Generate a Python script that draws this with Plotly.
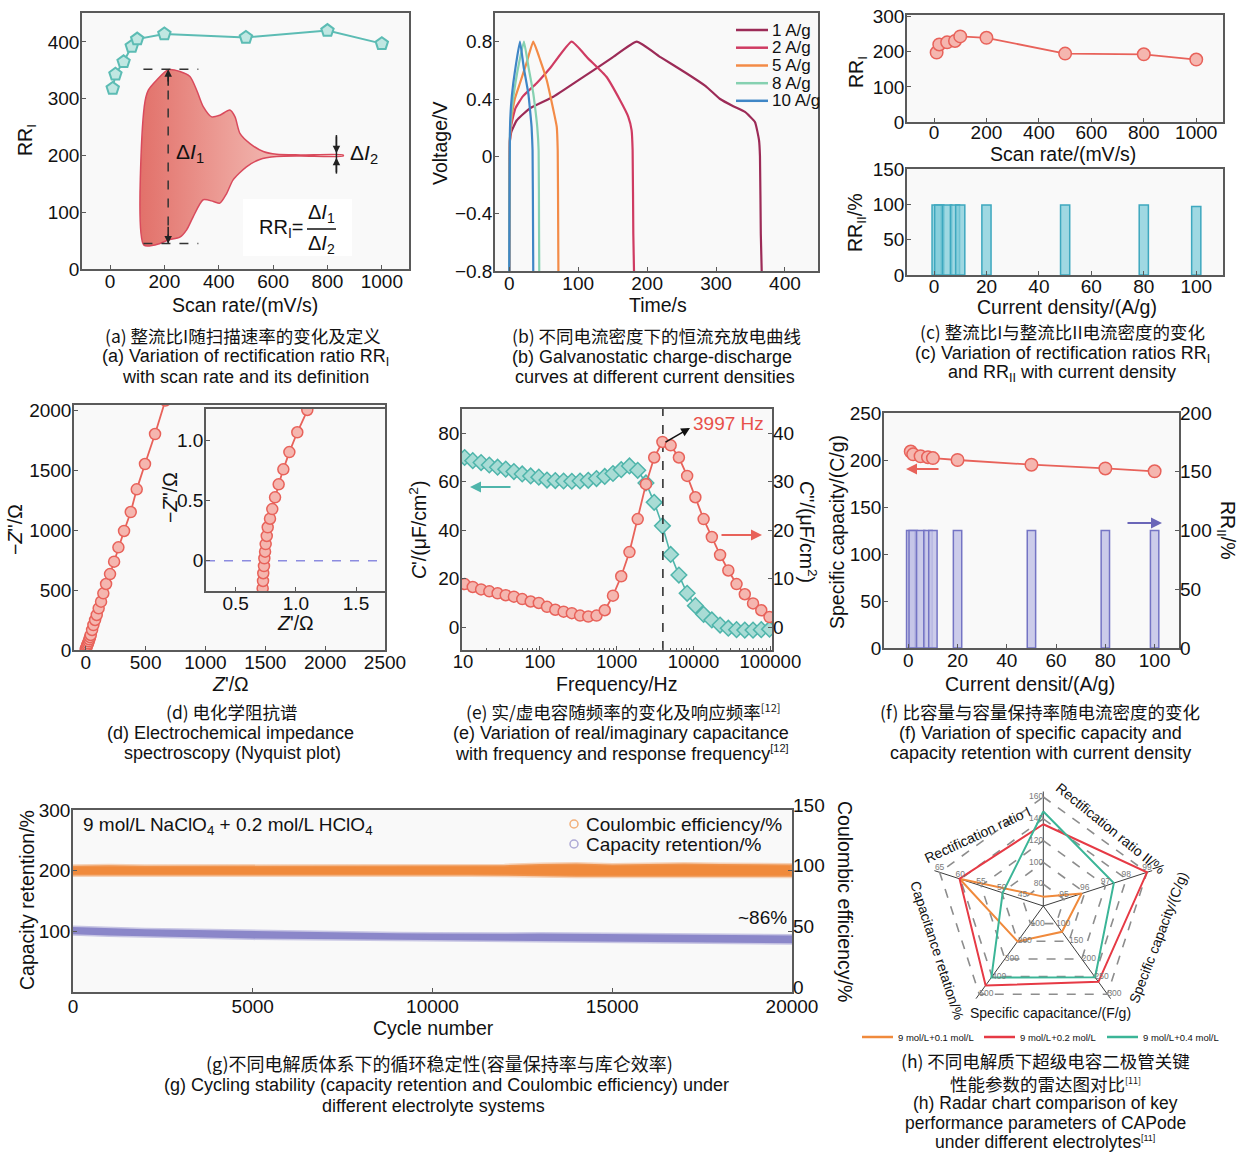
import plotly.graph_objects as go

W, H = 1241, 1154
SANS = "Liberation Sans, Arial, Helvetica, sans-serif"
CJK = "Noto Sans CJK SC, Noto Sans, sans-serif"

# ---------------- (a) rectification ratio I vs scan rate
a_scan = [10, 20, 50, 80, 100, 200, 500, 800, 1000]
a_rr = [318, 343, 365, 392, 405, 414, 408, 420, 397]
# schematic current envelope (illustration)
a_env_top_x = [125, 126, 141, 172, 214, 257, 294, 319, 343, 374, 404, 441, 460, 478, 515, 564, 613, 700, 858]
a_env_top_y = [42, 286, 315, 333, 351, 348, 339, 315, 286, 268, 271, 280, 268, 239, 221, 207, 202, 201, 201]
a_env_bot_x = [125, 184, 214, 257, 282, 306, 343, 380, 404, 429, 453, 502, 551, 613, 700, 858]
a_env_bot_y = [42, 45, 51, 56, 69, 92, 122, 119, 116, 133, 157, 180, 193, 198, 199, 199]

# ---------------- (b) GCD curves
b_labels = ["1 A/g", "2 A/g", "5 A/g", "8 A/g", "10 A/g"]
b_colors = ["#9c2b57", "#cf3b62", "#f38b47", "#86d1b1", "#3f86c6"]
b_t_1 = [0, 0.3, 1, 3, 10.7, 30, 64, 100, 122, 150, 185, 220, 257, 285, 306, 325, 342, 356.5, 362.4, 363.8, 365, 366.3]
b_v_1 = [-0.8, -0.3, 0.11, 0.17, 0.25, 0.335, 0.416, 0.53, 0.6, 0.69, 0.8, 0.69, 0.58, 0.49, 0.40, 0.35, 0.31, 0.24, 0.113, 0.0, -0.54, -0.8]
b_t_2 = [0, 0.3, 1, 3, 8.9, 20, 39.7, 60, 90.5, 115, 141, 160.6, 172.7, 177.5, 179, 180, 181]
b_v_2 = [-0.8, -0.3, 0.12, 0.22, 0.335, 0.42, 0.51, 0.62, 0.8, 0.68, 0.555, 0.393, 0.276, 0.183, 0.043, -0.54, -0.8]
b_t_5 = [0, 0.3, 1, 3, 8, 15.5, 25, 34.8, 45, 54.3, 64, 68.9, 70.3, 71, 71.3]
b_v_5 = [-0.8, -0.3, 0.12, 0.25, 0.4, 0.51, 0.65, 0.8, 0.67, 0.532, 0.323, 0.206, 0.043, -0.5, -0.8]
b_t_8 = [0, 0.3, 1, 3, 8.9, 15, 21.3, 28, 34.8, 38, 40.6, 42.6, 43.2, 43.5]
b_v_8 = [-0.8, -0.3, 0.15, 0.3, 0.51, 0.67, 0.8, 0.62, 0.44, 0.32, 0.206, 0.043, -0.5, -0.8]
b_t_10 = [0, 0.3, 1, 2.5, 5.8, 10, 15.5, 21, 27.6, 30, 32.4, 33.8, 34.5, 34.8]
b_v_10 = [-0.8, -0.3, 0.18, 0.35, 0.51, 0.65, 0.8, 0.62, 0.44, 0.33, 0.206, 0.043, -0.5, -0.8]

# ---------------- (c)
c_scan = [10, 20, 50, 80, 100, 200, 500, 800, 1000]
c_rr1 = [198, 221, 227, 231, 244, 240, 195, 193, 178]
c_cd = [1, 2, 5, 8, 10, 20, 50, 80, 100]
c_rr2 = [99, 99, 99, 99, 99, 99, 99, 99, 97]

# ---------------- (d) Nyquist
d_zre = [0, 3, 8, 13, 19, 25, 30, 36, 42, 53, 64, 78, 92, 108, 128, 147, 170, 203, 237, 273, 320, 376, 426, 495, 579, 665]
d_zim = [6, 15, 28, 42, 56, 72, 89, 107, 125, 167, 208, 250, 292, 347, 403, 472, 550, 633, 736, 856, 992, 1150, 1339, 1550, 1800, 2080]
di_zre = [0.724, 0.727, 0.729, 0.735, 0.738, 0.744, 0.749, 0.758, 0.766, 0.785, 0.804, 0.827, 0.857, 0.896, 0.946, 1.012, 1.095, 1.13]
di_zim = [-0.229, -0.168, -0.104, -0.044, 0.02, 0.075, 0.138, 0.205, 0.277, 0.348, 0.428, 0.525, 0.633, 0.757, 0.90, 1.064, 1.249, 1.32]

# ---------------- (e) C' and C'' vs frequency
e_freq = [10.5, 13.4, 17.2, 22, 28.2, 36, 46, 59, 76, 97, 124, 159, 204, 261, 334, 427, 547, 700, 896, 1147,
          1468, 1880, 2406, 3080, 3942, 5046, 6459, 8267, 10582, 13545, 17338, 22193, 28407, 36361, 46542,
          59574, 76255, 97606]
e_c1 = [70, 68.7, 67.9, 66.9, 66, 65.2, 64.2, 63.2, 62.4, 61.9, 60.7, 60.5, 60.3, 60.2, 60.3, 60.6, 61.3, 62.2, 63.4, 65,
        66.5, 64.7, 59.5, 51.5, 41.8, 30, 21.5, 14, 8.9, 5.3, 3.0, 0.9, -0.4, -1.0, -1.2, -1.2, -1.0, -0.8]
e_c2 = [8.9, 8.3, 7.8, 7.4, 7.0, 6.6, 6.3, 5.8, 5.3, 5.0, 4.2, 3.6, 3.2, 2.9, 2.4, 2.2, 2.4, 3.5, 6.5, 10.5,
        15.5, 22.3, 29.5, 35, 38.2, 37.5, 35, 31.2, 26.8, 22.3, 18.6, 14.9, 11.7, 8.9, 6.8, 4.9, 3.5, 2.1]
e_fres = 3997

# ---------------- (f)
f_cd = [1, 2, 5, 8, 10, 20, 50, 80, 100]
f_cap = [209, 206, 204, 203, 202, 200, 195, 191, 188]
f_rr2 = [100, 100, 100, 100, 100, 100, 100, 100, 100]

# ---------------- (g) cycling (band envelopes)
g_cycle = [0, 1000, 2000, 3000, 4000, 5000, 6000, 7000, 8000, 9000, 10000, 11000, 12000, 13000, 14000,
           15000, 16000, 17000, 18000, 19000, 20000]
g_ce_hi = [104, 104.5, 104, 104, 104.5, 104, 104, 104.5, 104, 104, 104.5, 104, 104.5, 105.5, 106, 105, 105.5, 106, 105.5, 105.5, 105]
g_ce_lo = [96, 96, 96.5, 96, 96, 96, 96.5, 96, 96, 96, 96, 96, 96, 95.5, 95, 94.5, 94.5, 95, 94.5, 95, 95]
g_cr_hi = [107, 105, 103.5, 102.5, 101.5, 100, 99.5, 99, 98, 97, 96.5, 96, 96, 96.5, 96, 95, 94.5, 94.5, 94, 93.5, 93]
g_cr_lo = [95, 93, 92, 90.5, 89.5, 88, 87.5, 86.5, 86, 85, 84.5, 84, 83.5, 84, 83.5, 82.5, 82, 82, 81.5, 81, 80.5]
g_xticks = [0, 5000, 10000, 15000, 20000]

# ---------------- (h) radar
h_axes = ["Rectification ratio I", "Rectification ratio II/%", "Specific capacity/(C/g)",
          "Specific capacitance/(F/g)", "Capacitance retation/%"]
h_lo = [60, 94, 50, 0, 40]
h_hi = [160, 99, 300, 500, 65]
h_ticks = [["80", "100", "120", "140", "160"], ["95", "96", "97", "98", "99"],
           ["100", "150", "200", "250", "300"], ["100", "200", "300", "400", "500"],
           ["45", "50", "55", "60", "65"]]
h_series = ["9 mol/L+0.1 mol/L", "9 mol/L+0.2 mol/L", "9 mol/L+0.4 mol/L"]
h_vals = [[68.6, 95.85, 123, 201, 60.2], [135, 99, 265, 450, 60.2], [146.7, 97.4, 252, 405, 49.8]]
h_colors = ["#f08a3c", "#e63a45", "#3bb597"]

# =====================================================================
PINK = dict(symbol="circle", size=11, color="#f5b6af", line=dict(color="#e8625a", width=1.5))
PINK_L = dict(symbol="circle", size=12.5, color="#f5b6af", line=dict(color="#e8625a", width=1.5))
RED = "#e8625a"


def dom(l, r):
    return [l / W, r / W]


def domy(t, b):
    return [1 - b / H, 1 - t / H]


def px(x):
    return x / W


def py(y):
    return 1 - y / H


TICKFONT = dict(size=19, family=SANS, color="#111")


def axis(domain, rng, tickvals, ticktext=None, anchor=None, **kw):
    d = dict(domain=domain, range=rng, tickvals=tickvals, anchor=anchor, showline=True, mirror=True,
             linecolor="#5a5a5a", linewidth=1.5, ticks="inside", ticklen=4, tickwidth=1.2,
             tickcolor="#5a5a5a", showgrid=False, zeroline=False, tickfont=TICKFONT, fixedrange=True,
             automargin=False)
    if ticktext is not None:
        d["ticktext"] = ticktext
    d.update(kw)
    return d


def xax(*a, **kw):
    kw.setdefault("ticklabelstandoff", -6)
    return axis(*a, **kw)


def yax(*a, **kw):
    kw.setdefault("ticklabelstandoff", -3)
    return axis(*a, **kw)


fig = go.Figure()

# (a)
fig.add_trace(go.Scatter(
    x=a_env_top_x + a_env_bot_x[::-1], y=a_env_top_y + a_env_bot_y[::-1], xaxis="x", yaxis="y",
    mode="lines", fill="toself", line=dict(color="#d94a5c", width=1.5, shape="spline", smoothing=0.7),
    fillgradient=dict(type="horizontal", colorscale=[[0, "#e2716a"], [0.45, "#eda19a"], [1, "#f7d6d2"]]),
    hoverinfo="skip"))
fig.add_trace(go.Scatter(x=a_scan, y=a_rr, xaxis="x", yaxis="y", mode="lines+markers",
                         line=dict(color="#5cbcb4", width=2),
                         marker=dict(symbol="pentagon", size=13, color="#c0e7e2",
                                     line=dict(color="#5cbcb4", width=2))))

# (b)
for t, v, c in [(b_t_1, b_v_1, b_colors[0]), (b_t_2, b_v_2, b_colors[1]), (b_t_5, b_v_5, b_colors[2]),
                (b_t_8, b_v_8, b_colors[3]), (b_t_10, b_v_10, b_colors[4])]:
    fig.add_trace(go.Scatter(x=t, y=v, xaxis="x2", yaxis="y2", mode="lines",
                             line=dict(color=c, width=2.2, shape="spline", smoothing=0.4)))

# (c)
fig.add_trace(go.Scatter(x=c_scan, y=c_rr1, xaxis="x3", yaxis="y3", mode="lines+markers",
                         line=dict(color=RED, width=1.8), marker=PINK_L))
fig.add_trace(go.Bar(x=c_cd, y=c_rr2, xaxis="x4", yaxis="y4", width=3.5,
                     marker=dict(color="rgba(128,204,218,0.75)", line=dict(color="#3ea8bf", width=1.5))))

# (d)
fig.add_trace(go.Scatter(x=d_zre, y=d_zim, xaxis="x5", yaxis="y5", mode="lines+markers",
                         line=dict(color=RED, width=1.8), marker=PINK))
fig.add_trace(go.Scatter(x=[0.253, 1.741], y=[0, 0], xaxis="x6", yaxis="y6", mode="lines",
                         line=dict(color="#8c8ce0", width=1.5, dash="dash")))
fig.add_trace(go.Scatter(x=di_zre, y=di_zim, xaxis="x6", yaxis="y6", mode="lines+markers",
                         line=dict(color=RED, width=1.8), marker=PINK))

# (e)
fig.add_trace(go.Scatter(x=e_freq, y=e_c1, xaxis="x7", yaxis="y7", mode="lines+markers",
                         line=dict(color="#4fb5ab", width=1.6),
                         marker=dict(symbol="diamond", size=12, color="#a9dcd5",
                                     line=dict(color="#4fb5ab", width=1.5))))
fig.add_trace(go.Scatter(x=[e_fres, e_fres], y=[-9.4, 90], xaxis="x7", yaxis="y7", mode="lines",
                         line=dict(color="#333", width=1.6, dash="dash")))
fig.add_trace(go.Scatter(x=e_freq, y=e_c2, xaxis="x7", yaxis="y8", mode="lines+markers",
                         line=dict(color=RED, width=1.8), marker=PINK))

# (f)
fig.add_trace(go.Scatter(x=f_cd, y=f_cap, xaxis="x8", yaxis="y9", mode="lines+markers",
                         line=dict(color=RED, width=1.8), marker=PINK_L))
fig.add_trace(go.Bar(x=f_cd, y=f_rr2, xaxis="x8", yaxis="y10", width=3.4,
                     marker=dict(color="rgba(196,196,232,0.85)", line=dict(color="#7474c4", width=1.5))))

# (g)
fig.add_trace(go.Scatter(x=g_cycle + g_cycle[::-1], y=g_cr_hi + g_cr_lo[::-1], xaxis="x9", yaxis="y11",
                         mode="lines", fill="toself", fillcolor="#8b87c9",
                         line=dict(color="rgba(139,135,201,0.45)", width=3)))
fig.add_trace(go.Scatter(x=g_cycle + g_cycle[::-1], y=g_ce_hi + g_ce_lo[::-1], xaxis="x9", yaxis="y12",
                         mode="lines", fill="toself", fillcolor="#f08a3c",
                         line=dict(color="rgba(240,160,100,0.45)", width=3)))

# (h) radar
ring_theta = h_axes + [h_axes[0]]
for k in [0.2, 0.4, 0.6, 0.8, 1.0]:
    fig.add_trace(go.Scatterpolar(r=[k] * 6, theta=ring_theta, mode="lines", subplot="polar",
                                  line=dict(color="#8d8d8d", width=1.6, dash="dash")))
for vals, col in zip(h_vals, h_colors):
    rn = [(v - lo) / (hi - lo) for v, lo, hi in zip(vals, h_lo, h_hi)]
    fig.add_trace(go.Scatterpolar(r=rn + [rn[0]], theta=ring_theta, mode="lines", subplot="polar",
                                  line=dict(color=col, width=2)))
tpos = ["middle left", "top center", "middle right", "middle right", "top center"]
for i in range(5):
    fig.add_trace(go.Scatterpolar(r=[0.2, 0.4, 0.6, 0.8, 1.0], theta=[h_axes[i]] * 5, mode="text",
                                  subplot="polar", text=h_ticks[i], textposition=tpos[i],
                                  textfont=dict(size=8.5, color="#7a7a7a", family=SANS)))

# ---------------- layout axes
minor_log = [m * 10 ** k for k in range(1, 5) for m in range(2, 10)]
layout_axes = dict(
    xaxis=xax(dom(82, 409), [-103, 1100], [0, 200, 400, 600, 800, 1000], anchor="y"),
    yaxis=yax(domy(13, 269), [0, 451], [0, 100, 200, 300, 400], anchor="x"),
    xaxis2=xax(dom(495, 818), [-20.7, 448], [0, 100, 200, 300, 400], anchor="y2"),
    yaxis2=yax(domy(13, 271), [-0.8, 1.0], [-0.8, -0.4, 0, 0.4, 0.8],
               ["\u22120.8", "\u22120.4", "0", "0.4", "0.8"], anchor="x2"),
    xaxis3=xax(dom(907, 1223), [-103, 1102], [0, 200, 400, 600, 800, 1000], anchor="y3",
               ticklabelstandoff=-8),
    yaxis3=yax(domy(15, 122), [0, 305], [0, 100, 200, 300], anchor="x3"),
    xaxis4=xax(dom(907, 1223), [-10.3, 110.2], [0, 20, 40, 60, 80, 100], anchor="y4",
               ticklabelstandoff=-7),
    yaxis4=yax(domy(169, 275), [0, 150], [0, 50, 100, 150], anchor="x4"),
    xaxis5=xax(dom(74, 385), [-98, 2500], [0, 500, 1000, 1500, 2000, 2500], anchor="y5"),
    yaxis5=yax(domy(405, 650), [0, 2042], [0, 500, 1000, 1500, 2000], anchor="x5"),
    xaxis6=xax(dom(206, 385), [0.253, 1.741], [0.5, 1.0, 1.5], ["0.5", "1.0", "1.5"], anchor="y6"),
    yaxis6=yax(domy(409, 591), [-0.251, 1.257], [0, 0.5, 1.0], ["0", "0.5", "1.0"], anchor="x6"),
    xaxis7=xax(dom(462, 772), [0.987, 5.022], [10, 100, 1000, 10000, 100000],
               ["10", "100", "1000", "10000", "100000"], anchor="y7", type="log",
               tickfont=dict(size=18.5, family=SANS, color="#111"),
               minor=dict(tickvals=minor_log, ticks="inside", ticklen=2.5, tickcolor="#5a5a5a")),
    yaxis7=yax(domy(409, 650), [-9.4, 90], [0, 20, 40, 60, 80], anchor="x7"),
    yaxis8=axis(domy(409, 650), [-4.7, 45], [0, 10, 20, 30, 40], anchor="x7", overlaying="y7",
                side="right", showline=False, mirror=False),
    xaxis8=xax(dom(884, 1179), [-9.85, 109.9], [0, 20, 40, 60, 80, 100], anchor="y9"),
    yaxis9=yax(domy(413, 648), [0, 250], [0, 50, 100, 150, 200, 250], anchor="x8"),
    yaxis10=axis(domy(413, 648), [0, 200], [0, 50, 100, 150, 200], anchor="x8", overlaying="y9",
                 side="right", showline=False, mirror=False),
    xaxis9=xax(dom(73, 792), [0, 20000], g_xticks, [str(v) for v in g_xticks], anchor="y11",
               ticklabelstandoff=-4),
    yaxis11=yax(domy(810, 992), [0, 300], [100, 200, 300], anchor="x9"),
    yaxis12=axis(domy(810, 992), [0, 150], [0, 50, 100, 150], anchor="x9", overlaying="y11",
                 side="right", showline=False, mirror=False, ticklabelshift=-5),
)

# ---------------- annotations
anns = []


def txt(x, y, text, size=18, angle=0, color="#111", family=SANS, xanchor="center", yanchor="middle"):
    anns.append(dict(x=px(x), y=py(y), xref="paper", yref="paper", text=text, showarrow=False,
                     font=dict(size=size, color=color, family=family), textangle=angle,
                     xanchor=xanchor, yanchor=yanchor))


def arrow(xh, yh, xt, yt, color, width=2, size=1.0, head=2):
    anns.append(dict(x=px(xh), y=py(yh), xref="paper", yref="paper", ax=xt - xh, ay=yt - yh,
                     showarrow=True, arrowhead=head, arrowwidth=width, arrowsize=size,
                     arrowcolor=color, text=""))


T = 19.5
# axis titles
txt(245, 305, "Scan rate/(mV/s)", size=T)
txt(27, 140, "RR<sub>I</sub>", size=T, angle=-90)
txt(658, 305, "Time/s", size=T)
txt(440, 143, "Voltage/V", size=T, angle=-90)
txt(1063, 154, "Scan rate/(mV/s)", size=T)
txt(857, 72, "RR<sub>I</sub>", size=T, angle=-90)
txt(1067, 307, "Current density/(A/g)", size=T)
txt(856, 223, "RR<sub>II</sub>/%", size=T, angle=-90)
txt(230, 684, "<i>Z</i>'/\u03a9", size=T)
txt(15, 530, "\u2212<i>Z</i>''/\u03a9", size=T, angle=-90)
txt(295, 623, "<i>Z</i>'/\u03a9", size=T)
txt(170, 498, "\u2212<i>Z</i>''/\u03a9", size=T, angle=-90)
txt(616, 684, "Frequency/Hz", size=T)
txt(418, 530, "<i>C</i>'/(\u03bcF/cm<sup>2</sup>)", size=T, angle=-90)
txt(808, 532, "<i>C</i>''/(\u03bcF/cm<sup>2</sup>)", size=T, angle=90)
txt(1030, 684, "Current densit/(A/g)", size=T)
txt(837, 532, "Specific capacity/(C/g)", size=T, angle=-90)
txt(1227, 530, "RR<sub>II</sub>/%", size=T, angle=90)
txt(433, 1028, "Cycle number", size=19.5)
txt(27, 900, "Capacity retention/%", size=19.5, angle=-90)
txt(845, 902, "Coulombic efficiency/%", size=19.5, angle=90)

# (a) illustration labels
txt(190, 153, "\u0394<i>I</i><sub>1</sub>", size=21)
txt(364, 154, "\u0394<i>I</i><sub>2</sub>", size=21)
txt(305, 228, "RR<sub>I</sub>=", size=20, xanchor="right")
txt(321, 213, "\u0394<i>I</i><sub>1</sub>", size=20)
txt(321, 244, "\u0394<i>I</i><sub>2</sub>", size=20)
for (xh, yh, xt, yt) in [(214, 352, 214, 320), (214, 45, 214, 77), (833, 204, 833, 236), (833, 196, 833, 168)]:
    anns.append(dict(x=xh, y=yh, ax=xt, ay=yt, xref="x", yref="y", axref="x", ayref="y", showarrow=True,
                     arrowhead=2, arrowwidth=1.5, arrowsize=1.0, arrowcolor="#222", text=""))

# (b) legend
b_rows = [30, 47.7, 65.5, 83.2, 100.8]
for lab, col, yy in zip(b_labels, b_colors, b_rows):
    txt(770, yy, lab, size=17, xanchor="left")

# (e) labels
txt(728, 423, "3997 Hz", size=19, color="#e8504a")
arrow(690, 428, 664, 443, "#111", width=1.6, size=1.1)
arrow(470, 487, 512, 487, "#4fb5ab", width=2.2, size=1.0)
arrow(762, 535, 720, 535, "#e8625a", width=2.2, size=1.0)
# (f) arrows
arrow(906, 469, 940, 469, "#e8625a", width=2.2, size=1.0)
arrow(1162, 523, 1126, 523, "#6a66b8", width=2.2, size=1.0)

# (g) labels
txt(81, 826, "9 mol/L NaClO<sub>4</sub> + 0.2 mol/L HClO<sub>4</sub>", size=19, xanchor="left")
txt(584, 824, "Coulombic efficiency/%", size=19, xanchor="left")
txt(584, 844, "Capacity retention/%", size=19, xanchor="left")
txt(762, 917, "~86%", size=19)

# (h) radar labels + legend
txt(977, 835, "Rectification ratio I", size=14, angle=-25)
txt(1110, 828, "Rectification ratio II/%", size=14, angle=39)
txt(1158, 938, "Specific capacity/(C/g)", size=14, angle=-69)
txt(1050, 1013, "Specific capacitance/(F/g)", size=14)
txt(937, 950, "Capacitance retation/%", size=14, angle=72)
h_leg_x = [862, 984, 1107]
for lab, x0 in zip(h_series, h_leg_x):
    txt(x0 + 34, 1037, lab, size=9.5, xanchor="left")

SUP11 = "<sup><span style='font-size:9px'>[11]</span></sup>"
SUP12 = "<sup><span style='font-size:11px'>[12]</span></sup>"
# captions
cap = [
    (243, 335, "(a) 整流比I随扫描速率的变化及定义", CJK, 17.5),
    (245, 357, "(a) Variation of rectification ratio RR<sub>I</sub>", SANS, 18),
    (245, 377, "with scan rate and its definition", SANS, 18),
    (656, 335, "(b) 不同电流密度下的恒流充放电曲线", CJK, 17.5),
    (652, 357, "(b) Galvanostatic charge-discharge", SANS, 18),
    (655, 377, "curves at different current densities", SANS, 18),
    (1062, 331, "(c) 整流比I与整流比II电流密度的变化", CJK, 17.5),
    (1062, 354, "(c) Variation of rectification ratios RR<sub>I</sub>", SANS, 18),
    (1062, 374, "and RR<sub>II</sub> with current density", SANS, 18),
    (232, 711, "(d) 电化学阻抗谱", CJK, 17.5),
    (230, 733, "(d) Electrochemical impedance", SANS, 18),
    (232, 753, "spectroscopy (Nyquist plot)", SANS, 18),
    (623, 711, "(e) 实/虚电容随频率的变化及响应频率" + SUP12, CJK, 17.5),
    (621, 733, "(e) Variation of real/imaginary capacitance", SANS, 18),
    (622, 753, "with frequency and response frequency" + SUP12, SANS, 18),
    (1040, 711, "(f) 比容量与容量保持率随电流密度的变化", CJK, 17.5),
    (1040, 733, "(f) Variation of specific capacity and", SANS, 18),
    (1040, 753, "capacity retention with current density", SANS, 18),
    (440, 1063, "(g)不同电解质体系下的循环稳定性(容量保持率与库仑效率)", CJK, 18),
    (446, 1085, "(g) Cycling stability (capacity retention and Coulombic efficiency) under", SANS, 18),
    (433, 1106, "different electrolyte systems", SANS, 18),
    (1045, 1060, "(h) 不同电解质下超级电容二极管关键", CJK, 17.5),
    (1045, 1083, "性能参数的雷达图对比" + SUP11, CJK, 17.5),
    (1045, 1103, "(h) Radar chart comparison of key", SANS, 17.5),
    (1045, 1123, "performance parameters of CAPode", SANS, 17.5),
    (1045, 1142, "under different electrolytes" + SUP11, SANS, 17.5),
]
for x, y, t, fam, sz in cap:
    txt(x, y, t, size=sz, family=fam)

# ---------------- shapes
shapes = []
for (x0, y0, x1, y1) in [(123, 352, 325, 352), (123, 45, 325, 45), (214, 45, 214, 352)]:
    shapes.append(dict(type="line", xref="x", yref="y", x0=x0, y0=y0, x1=x1, y1=y1,
                       line=dict(color="#333", width=1.5, dash="dash")))
shapes.append(dict(type="line", xref="x", yref="y", x0=833, y0=168, x1=833, y1=236,
                   line=dict(color="#222", width=1.5)))
shapes.append(dict(type="rect", xref="paper", yref="paper", x0=px(243), x1=px(352), y0=py(256), y1=py(199),
                   fillcolor="white", line=dict(width=0), layer="below"))
shapes.append(dict(type="line", xref="paper", yref="paper", x0=px(307), x1=px(336), y0=py(229), y1=py(229),
                   line=dict(color="#111", width=1.5)))
for col, yy in zip(b_colors, b_rows):
    shapes.append(dict(type="line", xref="paper", yref="paper", x0=px(736), x1=px(768), y0=py(yy), y1=py(yy),
                       line=dict(color=col, width=2.5)))
for col, yy in [("#f2b07a", 824), ("#aeaad6", 844)]:
    shapes.append(dict(type="circle", xref="paper", yref="paper", x0=px(570), x1=px(578), y0=py(yy + 4),
                       y1=py(yy - 4), line=dict(color=col, width=1.5)))
for col, x0 in zip(h_colors, h_leg_x):
    shapes.append(dict(type="line", xref="paper", yref="paper", x0=px(x0), x1=px(x0 + 31), y0=py(1037),
                       y1=py(1037), line=dict(color=col, width=2.5)))

fig.update_layout(
    width=W, height=H, autosize=False, margin=dict(l=0, r=0, t=0, b=0, pad=0, autoexpand=False),
    paper_bgcolor="white", plot_bgcolor="#f9f9f9", showlegend=False, barmode="overlay",
    font=dict(family=SANS, size=18, color="#111"),
    annotations=anns, shapes=shapes,
    polar=dict(domain=dict(x=[0.7484, 0.9330], y=[0.1157, 0.3141]), bgcolor="rgba(0,0,0,0)",
               gridshape="linear",
               radialaxis=dict(range=[0, 1.05], showgrid=False, showticklabels=False, showline=False, ticks=""),
               angularaxis=dict(type="category", categoryarray=h_axes, rotation=90, direction="clockwise",
                                showgrid=True, gridcolor="#3c3c3c", gridwidth=1.3, showline=False,
                                showticklabels=False, ticks="")),
    **layout_axes,
)

fig.write_html("out.html", config={"displayModeBar": False},
               post_script="document.body.style.margin='0';document.documentElement.style.overflow='hidden';")
